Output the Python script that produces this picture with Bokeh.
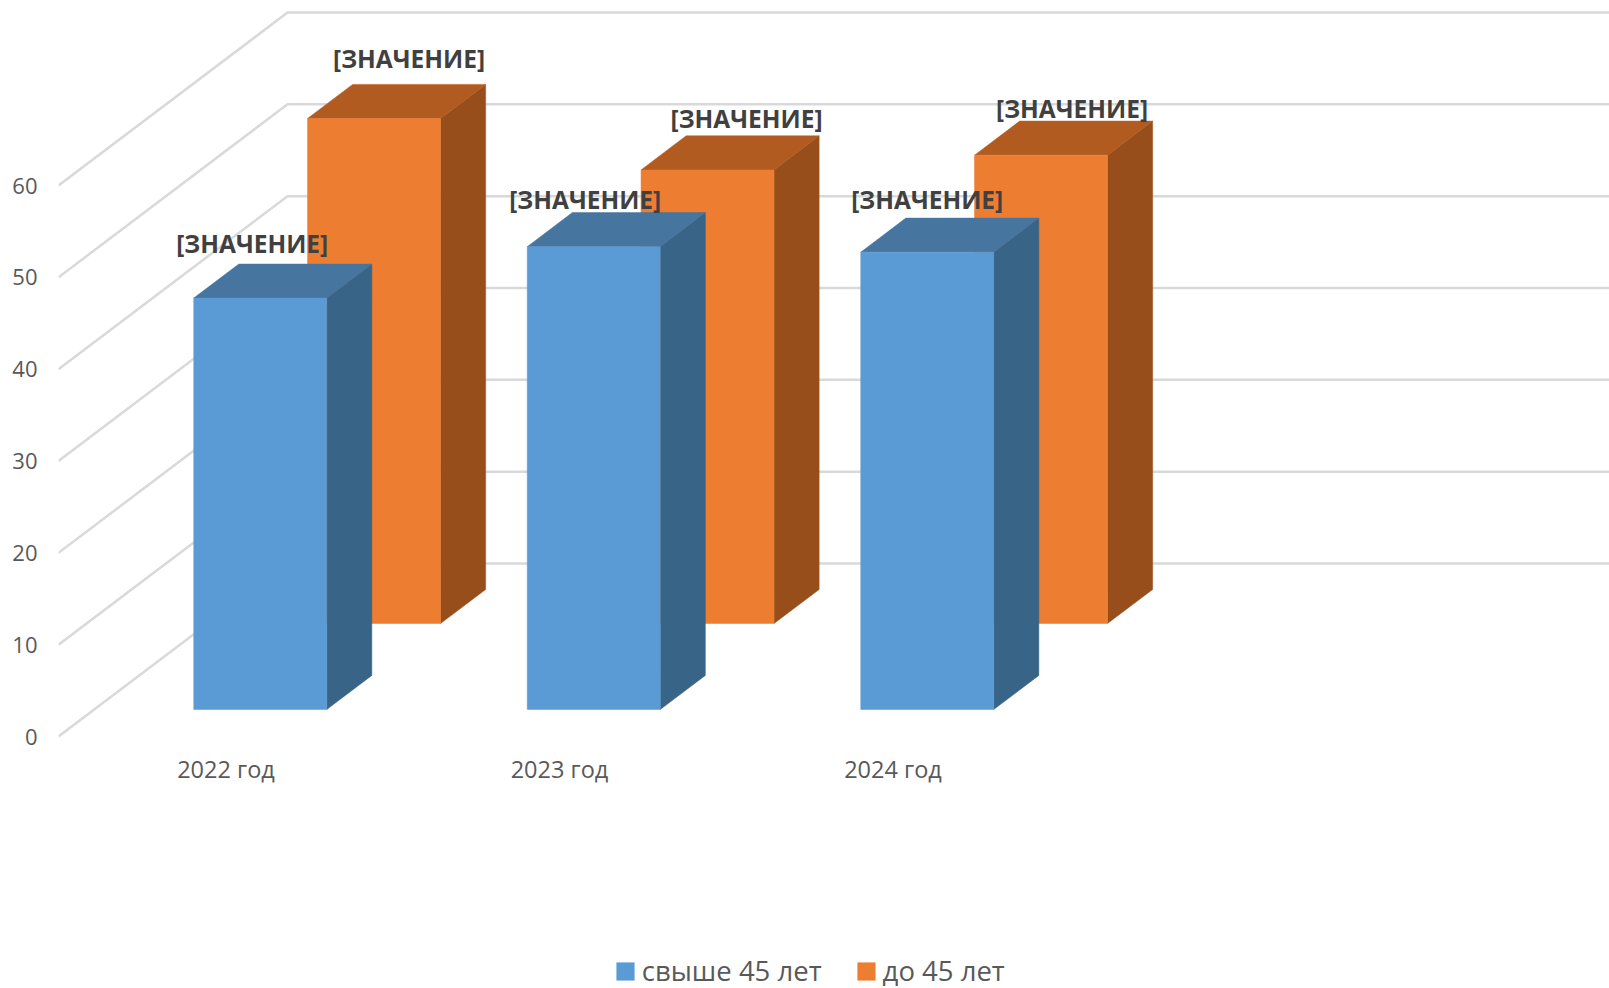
from bokeh.plotting import figure
from bokeh.models import Range1d, ColumnDataSource, Legend, LegendItem, FixedTicker
from bokeh.core.properties import value
from bokeh.embed import file_html
from bokeh.resources import INLINE

# ---- data ----
categories = ["2022 год", "2023 год", "2024 год"]
series_names = ["свыше 45 лет", "до 45 лет"]
over_45 = [44.8, 50.4, 49.8]
under_45 = [55, 49.4, 51]
tick_values = [0, 10, 20, 30, 40, 50, 60]
point_label = "[ЗНАЧЕНИЕ]"

# ---- layout ----
W, H = 1609, 988
LEFT = 58                     # image x of the frame's left edge
PX_PER_UNIT = 9.183           # screen pixels per value unit
Y0 = 736                      # image y of value 0 at the front
DEPTH_DX, DEPTH_DY = 229, 173 # screen shift from front to back wall
SLOT, BAR_W, SLOT_PAD = 333.5, 133, 99.5
FONT = "Open Sans"
GRID = "#D9D9D9"
TEXT = "#595959"

def val_of(img_y):
    return (Y0 - img_y) / PX_PER_UNIT

p = figure(width=W, height=H, output_backend="svg", toolbar_location=None,
           x_range=Range1d(LEFT, W), y_range=Range1d(val_of(H), val_of(0)),
           min_border_left=LEFT, min_border_right=0, min_border_top=0, min_border_bottom=0)
p.xaxis.visible = False
p.grid.visible = False
p.outline_line_color = None
p.background_fill_color = "white"

ax = p.yaxis[0]
ax.ticker = FixedTicker(ticks=tick_values)
ax.axis_line_color = None
ax.major_tick_line_color = None
ax.minor_tick_line_color = None
ax.major_tick_out = 0
ax.major_label_standoff = 21
ax.major_label_text_font = FONT
ax.major_label_text_font_size = "22px"
ax.major_label_text_color = TEXT

def proj(x, v, d):
    """slot x (px), value, depth 0..1 -> data coordinates"""
    return LEFT + x + d * DEPTH_DX, v + d * DEPTH_DY / PX_PER_UNIT

# gridlines: side wall + back wall
gx, gy = [], []
for t in tick_values:
    a = proj(0, t, 0)
    b = proj(0, t, 1)
    gx.append([a[0], b[0], W])
    gy.append([a[1], b[1], b[1]])
p.multi_line(gx, gy, line_color=GRID, line_width=2.5)

def faces(vals, d0, d1):
    out = {"front": ([], []), "top": ([], []), "side": ([], [])}
    for i, v in enumerate(vals):
        xl = SLOT_PAD + SLOT * i
        xr = xl + BAR_W
        f = [proj(xl, 0, d0), proj(xr, 0, d0), proj(xr, v, d0), proj(xl, v, d0)]
        t = [proj(xl, v, d0), proj(xr, v, d0), proj(xr, v, d1), proj(xl, v, d1)]
        s = [proj(xr, 0, d0), proj(xr, 0, d1), proj(xr, v, d1), proj(xr, v, d0)]
        for key, pts in (("front", f), ("top", t), ("side", s)):
            out[key][0].append([q[0] for q in pts])
            out[key][1].append([q[1] for q in pts])
    return out

def draw(vals, d0, d1, cf, ct, cs):
    fc = faces(vals, d0, d1)
    p.patches(*fc["side"], fill_color=cs, line_color=cs, line_width=0.5)
    p.patches(*fc["top"], fill_color=ct, line_color=ct, line_width=0.5)
    return p.patches(*fc["front"], fill_color=cf, line_color=cf, line_width=0.5)

D_BLUE = (0.156, 0.353)
D_ORANGE = (0.653, 0.85)
r_orange = draw(under_45, *D_ORANGE, "#ED7D31", "#B25B20", "#974E1B")
r_blue = draw(over_45, *D_BLUE, "#5B9BD5", "#4675A0", "#386488")

# category labels
cat_src = ColumnDataSource(dict(
    x=[LEFT + SLOT_PAD + 68 + SLOT * i for i in range(len(categories))],
    y=[val_of(768)] * len(categories), t=categories))
p.text("x", "y", text="t", source=cat_src, text_font=value(FONT), text_font_size="23.5px",
       text_color=TEXT, text_align="center", text_baseline="middle")

# data labels: hand-placed offsets from the centre of each bar's front top edge
blue_off = [(-8, 55), (-8.5, 47), (0, 53)]
orange_off = [(35, 60), (39, 51), (31, 47)]
lx, ly = [], []
for vals, (d0, _), off in ((over_45, D_BLUE, blue_off), (under_45, D_ORANGE, orange_off)):
    for i, v in enumerate(vals):
        cx, cy = proj(SLOT_PAD + SLOT * i + BAR_W / 2, v, d0)
        lx.append(cx + off[i][0])
        ly.append(cy + off[i][1] / PX_PER_UNIT)
p.text(lx, ly, text=[point_label] * len(lx), text_font=value(FONT), text_font_style="bold",
       text_font_size="24.5px", text_color="#404040", text_align="center", text_baseline="middle")

legend = Legend(items=[LegendItem(label=series_names[0], renderers=[r_blue]),
                       LegendItem(label=series_names[1], renderers=[r_orange])],
                orientation="horizontal", location=(613.75 - LEFT, -1),
                glyph_width=22, glyph_height=22, label_standoff=6, spacing=33,
                padding=0, margin=0, border_line_color=None, background_fill_alpha=0,
                label_text_font=FONT, label_text_font_size="27.5px", label_text_color=TEXT)
p.add_layout(legend)

open("out.html", "w").write(file_html(p, INLINE))
